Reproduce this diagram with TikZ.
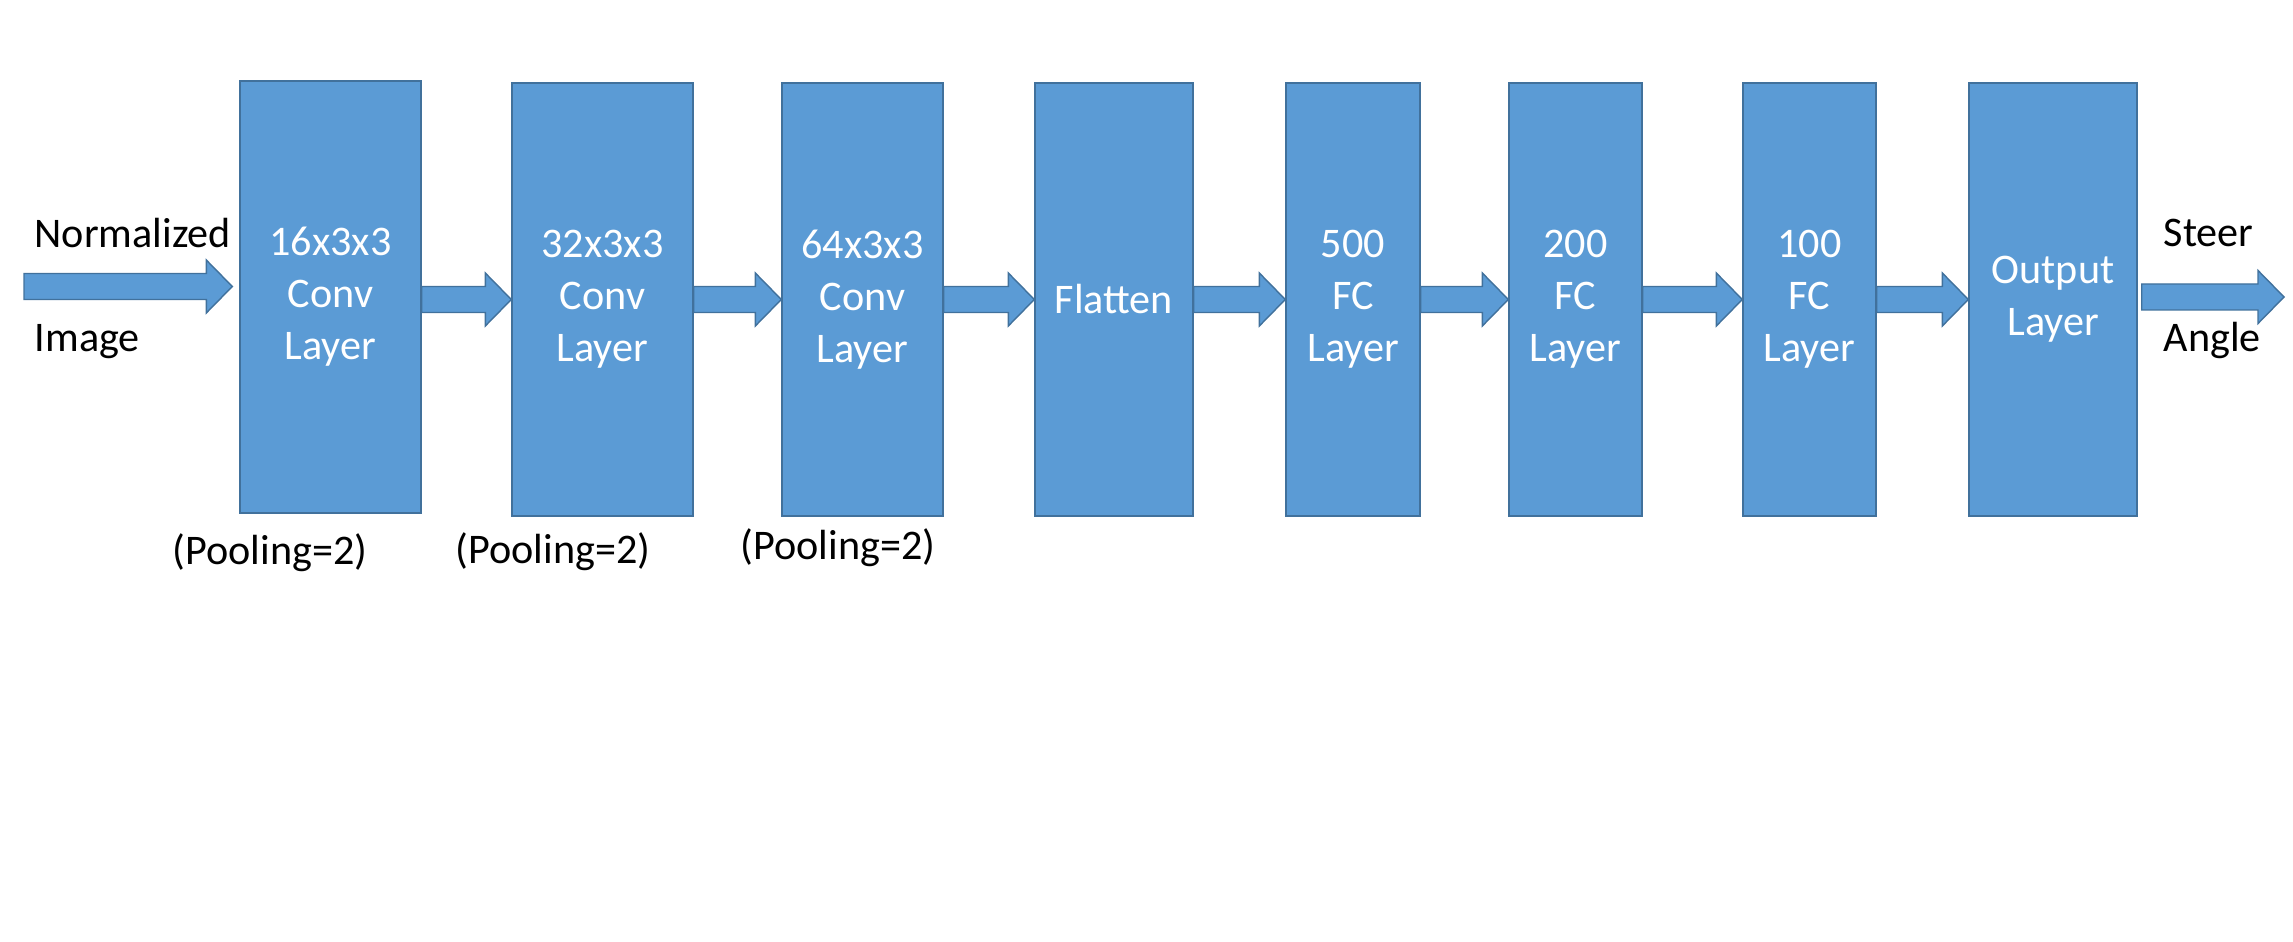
\documentclass[tikz,border=0pt]{standalone}
\usepackage{fontspec}
\setmainfont{Carlito}
\usetikzlibrary{calc}
\definecolor{layerblue}{HTML}{5B9BD5}
\definecolor{layeredge}{HTML}{41719C}

\begin{document}
\begin{tikzpicture}[
  layer/.style={shape=rectangle, draw=layeredge, fill=layerblue, line width=0.4pt, text=white, align=center, minimum height=4.33cm, inner sep=0pt, font=\fontsize{12}{14.8}\selectfont},
  fatarrow/.style={draw=layeredge, fill=layerblue, line width=0.4pt, to path={let \p1=(\tikztostart), \p2=(\tikztotarget) in
    (\x1,{\y1+0.13cm}) -- ({\x2-0.26cm},{\y1+0.13cm}) -- ({\x2-0.26cm},{\y1+0.265cm}) -- (\x2,\y1)
    -- ({\x2-0.26cm},{\y1-0.265cm}) -- ({\x2-0.26cm},{\y1-0.13cm}) -- (\x1,{\y1-0.13cm}) -- cycle}},
  caption/.style={font=\fontsize{12}{14.8}\selectfont, inner sep=0pt}
]
  \useasboundingbox (0,0) rectangle (22.93,-9.42);
  \node[layer, minimum width=1.81cm, minimum height=4.32cm] (1) at (3.305, -2.97) {16x3x3\\Conv\\Layer};
  \node[layer, minimum width=1.81cm] (2) at (6.025, -2.995) {32x3x3\\Conv\\Layer};
  \node[layer, minimum width=1.61cm] (3) at (8.625, -2.995) {64x3x3\\Conv\\Layer};
  \node[layer, minimum width=1.58cm] (4) at (11.14, -2.995) {Flatten};
  \node[layer, minimum width=1.34cm] (5) at (13.53, -2.995) {500\\FC\\Layer};
  \node[layer, minimum width=1.33cm] (6) at (15.755, -2.995) {200\\FC\\Layer};
  \node[layer, minimum width=1.33cm] (7) at (18.095, -2.995) {100\\FC\\Layer};
  \node[layer, minimum width=1.68cm] (8) at (20.53, -2.995) {Output\\Layer};
  \coordinate (in) at (0.24, -2.865);
  \coordinate (out) at (22.84, -2.97);
  \draw[fatarrow] (in) to ([xshift=-0.07cm]in -| 1.west);
  \draw[fatarrow] (1.east |- 2.west) to (2.west);
  \draw[fatarrow] (2.east) to (3.west);
  \draw[fatarrow] (3.east) to (4.west);
  \draw[fatarrow] (4.east) to (5.west);
  \draw[fatarrow] (5.east) to (6.west);
  \draw[fatarrow] (6.east) to (7.west);
  \draw[fatarrow] (7.east) to (8.west);
  \draw[fatarrow] ([xshift=0.04cm]out -| 8.east) to (out);
  \node[caption, anchor=base west] (normalized) at (0.34, -2.48) {Normalized};
  \node[caption, anchor=base west] (image) at (0.34, -3.52) {Image};
  \node[caption, anchor=base west] (steer) at (21.63, -2.47) {Steer};
  \node[caption, anchor=base west] (angle) at (21.63, -3.52) {Angle};
  \node[caption, anchor=base] (pool1) at (2.70, -5.65) {(Pooling=2)};
  \node[caption, anchor=base] (pool2) at (5.53, -5.63) {(Pooling=2)};
  \node[caption, anchor=base] (pool3) at (8.38, -5.60) {(Pooling=2)};
\end{tikzpicture}
\end{document}
